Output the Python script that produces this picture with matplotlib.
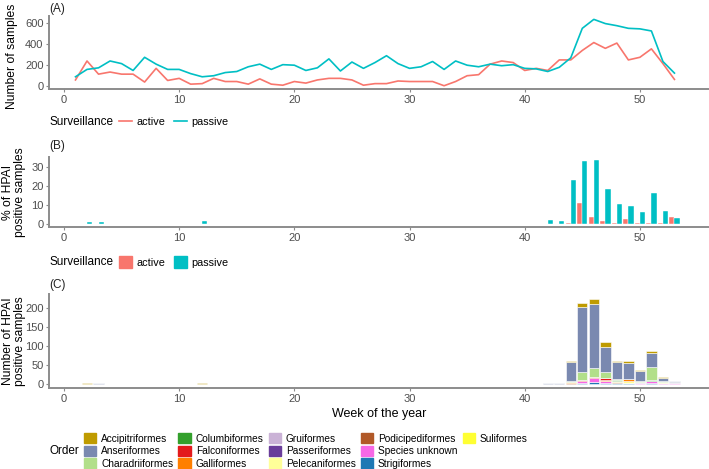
import matplotlib
matplotlib.use("Agg")
import matplotlib.pyplot as plt
from matplotlib.lines import Line2D
from matplotlib.patches import Patch
import numpy as np

plt.rcParams['font.family'] = ['Liberation Sans', 'DejaVu Sans']

# Panel A: weekly number of samples
weeks = list(range(1, 54))
active_n = [60, 240, 115, 135, 115, 115, 40, 170, 55, 75,
            20, 25, 75, 45, 45, 20, 70, 20, 10, 45,
            30, 60, 75, 75, 60, 10, 25, 25, 50, 45,
            45, 45, 5, 45, 100, 110, 210, 240, 225, 150,
            170, 150, 250, 250, 340, 415, 360, 410, 250, 275,
            355, 215, 65]
passive_n = [90, 160, 175, 240, 215, 150, 275, 210, 160, 160,
             120, 90, 100, 130, 140, 185, 210, 160, 205, 200,
             150, 175, 260, 145, 230, 170, 225, 290, 215, 170,
             185, 235, 160, 240, 200, 185, 210, 195, 205, 170,
             165, 140, 180, 270, 550, 635, 595, 575, 550, 545,
             525, 235, 125]

# Panel B: % of HPAI positive samples (only non-zero weeks)
weeks_b = [2, 3, 12, 42, 43, 44, 45, 46, 47, 48, 49, 50, 51, 52, 53]
active_pct = [0, 0, 0, 0, 0, 0.3, 11, 3.6, 1.2, 0.3, 2.6, 0.3, 0.3, 0.3, 3.6]
passive_pct = [1, 1, 1.2, 2.2, 1.7, 22.8, 33, 33.3, 18.1, 10.4, 9.3, 6.2, 16.2, 6.9, 3.1]

# Panel C: number of HPAI positive samples by order
weeks_c = [2, 3, 12, 42, 43, 44, 45, 46, 47, 48, 49, 50, 51, 52, 53]
orders = ['Accipitriformes', 'Anseriformes', 'Charadriiformes', 'Columbiformes',
          'Falconiformes', 'Galliformes', 'Gruiformes', 'Passeriformes',
          'Pelecaniformes', 'Podicipediformes', 'Species unknown', 'Strigiformes',
          'Suliformes']
accipitriformes = [2, 0, 2, 0, 0, 3, 12, 15, 13, 4, 3, 3, 4, 2, 0]
anseriformes = [0, 2, 0, 2, 2, 50, 172, 170, 66, 45, 44, 25, 38, 8, 3]
charadriiformes = [0, 0, 0, 0, 0, 2, 20, 22, 18, 2, 0, 3, 35, 3, 0]
columbiformes = [0, 0, 0, 0, 0, 0, 0, 0, 0, 2, 0, 0, 2, 0, 0]
falconiformes = [0, 0, 0, 0, 0, 1, 5, 3, 5, 0, 0, 0, 0, 0, 0]
galliformes = [0, 0, 0, 0, 0, 3, 0, 0, 1, 2, 6, 0, 0, 0, 0]
gruiformes = [0, 0, 0, 0, 0, 0, 0, 0, 0, 0, 0, 2, 0, 0, 2]
passeriformes = [0] * 15
pelecaniformes = [0, 0, 0, 0, 0, 0, 0, 0, 0, 2, 3, 0, 0, 3, 0]
podicipediformes = [0, 0, 0, 0, 0, 1, 0, 2, 1, 3, 0, 0, 0, 0, 0]
species_unknown = [0, 0, 0, 0, 0, 0, 3, 10, 4, 0, 0, 3, 5, 2, 2]
strigiformes = [0, 0, 0, 0, 0, 0, 3, 4, 3, 1, 3, 0, 2, 0, 0]
suliformes = [0] * 15

order_values = [accipitriformes, anseriformes, charadriiformes, columbiformes,
                falconiformes, galliformes, gruiformes, passeriformes,
                pelecaniformes, podicipediformes, species_unknown, strigiformes,
                suliformes]
order_colors = ['#BF9B00', '#7A89B0', '#B2DF8A', '#33A02C', '#E31A1C', '#FF7F00',
                '#CAB2D6', '#6A3D9A', '#FFFF99', '#B15928', '#F768E6', '#1F78B4',
                '#FFFF33']

c_active = '#F8766D'
c_passive = '#00BFC4'
axis_grey = '#8C8C8C'
tick_col = '#4D4D4D'

W, H = 709, 469
fig = plt.figure(figsize=(W / 100, H / 100), dpi=100)


def frac_axes(top, bottom, left=49, right=709):
    return fig.add_axes([left / W, 1 - bottom / H, (right - left) / W, (bottom - top) / H])


def style(ax):
    for s in ['top', 'right']:
        ax.spines[s].set_visible(False)
    for s in ['left', 'bottom']:
        ax.spines[s].set_color(axis_grey)
        ax.spines[s].set_linewidth(1.4)
    ax.tick_params(colors=axis_grey, labelcolor=tick_col, labelsize=8, length=2.5, width=0.8, pad=1.5)
    ax.set_xlim(-1.3, 56)
    ax.set_xticks([0, 10, 20, 30, 40, 50])


def ylab(text, yc, x):
    fig.text(x / W, 1 - yc / H, text, rotation=90, fontsize=8.7,
             ha='center', va='center', linespacing=0.95)


# (A)
axA = frac_axes(16, 89)
axA.plot(weeks, active_n, color=c_active, lw=1.2, label='active')
axA.plot(weeks, passive_n, color=c_passive, lw=1.2, label='passive')
axA.set_ylim(-26, 667)
axA.set_yticks([0, 200, 400, 600])
style(axA)
ylab('Number of samples', 56, 12)
fig.text(49 / W, 1 - 9 / H, '(A)', fontsize=8.5, va='center', color='#222222')

# (B)
axB = frac_axes(157, 227)
wb = np.array(weeks_b)
axB.bar(wb - 0.225, active_pct, width=0.45, color=c_active, edgecolor='white', lw=0.3, label='active')
axB.bar(wb + 0.225, passive_pct, width=0.45, color=c_passive, edgecolor='white', lw=0.3, label='passive')
axB.set_ylim(-1.7, 35)
axB.set_yticks([0, 10, 20, 30])
style(axB)
ylab('% of HPAI\npositive samples', 192, 14)
fig.text(49 / W, 1 - 146 / H, '(B)', fontsize=8.5, va='center', color='#222222')

# (C)
axC = frac_axes(294, 388)
bottom = np.zeros(len(weeks_c))
for name, vals, col in reversed(list(zip(orders, order_values, order_colors))):
    axC.bar(weeks_c, vals, bottom=bottom, width=0.9, color=col, edgecolor='white', lw=0.4, label=name)
    bottom += np.array(vals)
axC.set_ylim(-11.5, 238)
axC.set_yticks([0, 50, 100, 150, 200])
style(axC)
ylab('Number of HPAI\npositive samples', 341, 14)
axC.set_xlabel('Week of the year', fontsize=9, labelpad=3)
fig.text(49 / W, 1 - 285 / H, '(C)', fontsize=8.5, va='center', color='#222222')

# legends A and B
fig.text(49 / W, 1 - 122 / H, 'Surveillance', fontsize=8.5, va='center')
fig.legend(handles=[Line2D([], [], color=c_active, lw=1.2), Line2D([], [], color=c_passive, lw=1.2)],
           labels=['active', 'passive'], loc='center left', bbox_to_anchor=(119 / W, 1 - 122 / H),
           ncol=2, frameon=False, fontsize=7.8, handlelength=1.2, handletextpad=0.4,
           columnspacing=0.8, borderpad=0, borderaxespad=0)

fig.text(49 / W, 1 - 262 / H, 'Surveillance', fontsize=8.5, va='center')
fig.legend(handles=[Patch(color=c_active), Patch(color=c_passive)],
           labels=['active', 'passive'], loc='center left', bbox_to_anchor=(119 / W, 1 - 262 / H),
           ncol=2, frameon=False, fontsize=7.8, handlelength=1.2, handleheight=1.2,
           handletextpad=0.4, columnspacing=0.8, borderpad=0, borderaxespad=0)

# Order legend
h = [Patch(color=c) for c in order_colors] + [Patch(alpha=0), Patch(alpha=0)]
lab = orders + ['', '']
fig.text(49 / W, 1 - 451 / H, 'Order', fontsize=8.5, va='center')
fig.legend(handles=h, labels=lab, loc='center left', bbox_to_anchor=(84 / W, 1 - 451 / H),
           ncol=5, frameon=False, fontsize=7.3, handlelength=1.2, handleheight=1.2,
           handletextpad=0.5, columnspacing=0.5, labelspacing=0.2,
           borderpad=0, borderaxespad=0)

fig.savefig('out.png', dpi=100)
